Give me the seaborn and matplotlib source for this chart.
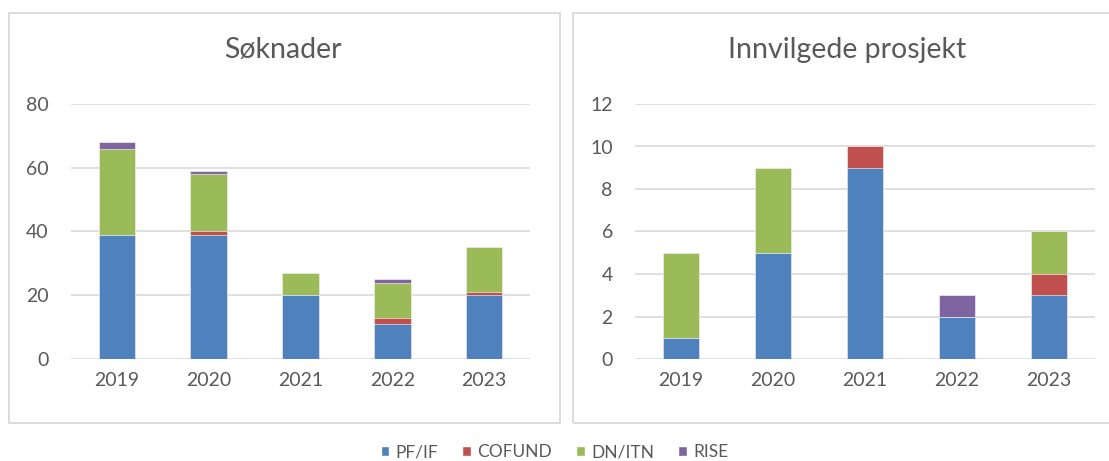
import matplotlib
matplotlib.use('Agg')
import matplotlib.pyplot as plt
from matplotlib.patches import Rectangle, Patch
import seaborn as sns

years=['2019','2020','2021','2022','2023']
series=['PF/IF','COFUND','DN/ITN','RISE']
colors=['#4F81BD','#C0504D','#9BBB59','#8064A2']

# søknader
soknad_pf=[39,39,20,11,20]
soknad_cofund=[0,1,0,2,1]
soknad_dn=[27,18,7,11,14]
soknad_rise=[2,1,0,1,0]

# innvilgede prosjekt
innv_pf=[1,5,9,2,3]
innv_cofund=[0,0,1,0,1]
innv_dn=[4,4,0,0,2]
innv_rise=[0,0,0,1,0]

sns.set_style('white')
plt.rcParams['font.family']=['Lato','DejaVu Sans']

fig=plt.figure(figsize=(11.09,4.61),dpi=100)
W,H=1109,461

def stacked(ax,data,ymax,step,title,title_x):
    # cumulative tops, drawn from the top layer down so the lower ones cover
    cum=[]
    run=[0]*len(years)
    for s in data:
        run=[a+b for a,b in zip(run,s)]
        cum.append(run)
    for i in range(len(data)-1,-1,-1):
        sns.barplot(x=years,y=cum[i],color=colors[i],width=0.4,saturation=1,
                    edgecolor='white',linewidth=0.4,ax=ax,zorder=3)
    ax.set_ylim(0,ymax)
    ax.set_yticks(range(0,ymax+1,step))
    ax.grid(axis='y',color='#D9D9D9',linewidth=1.2,zorder=0)
    ax.set_axisbelow(True)
    sns.despine(ax=ax,left=True,bottom=True)
    ax.tick_params(axis='y',length=0,pad=16,labelsize=14,labelcolor='#595959')
    ax.tick_params(axis='x',length=0,pad=9,labelsize=14,labelcolor='#595959')
    ax.set_xlabel('')
    ax.set_ylabel('')
    fig.text(title_x/W,1-50/H,title,ha='center',va='center',fontsize=20.5,color='#595959')

ax1=fig.add_axes([71/W,(461-359)/H,459/W,255/H])
stacked(ax1,[soknad_pf,soknad_cofund,soknad_dn,soknad_rise],80,20,'Søknader',283)
ax2=fig.add_axes([635/W,(461-359)/H,460/W,255/H])
stacked(ax2,[innv_pf,innv_cofund,innv_dn,innv_rise],12,2,'Innvilgede prosjekt',847)

# panel frames
fig.patches.append(Rectangle((9/W,(461-423)/H),551/W,410/H,transform=fig.transFigure,
                             fill=False,edgecolor='#D9D9D9',linewidth=1.3))
fig.patches.append(Rectangle((573/W,(461-423)/H),540/W,410/H,transform=fig.transFigure,
                             fill=False,edgecolor='#D9D9D9',linewidth=1.3))

handles=[Patch(facecolor=c,label=s) for c,s in zip(colors,series)]
leg=fig.legend(handles=handles,loc='center',bbox_to_anchor=(0.5,1-452/H),ncol=4,frameon=False,
               fontsize=12.5,handlelength=0.5,handleheight=0.5,handletextpad=0.35,columnspacing=1.4)
for t in leg.get_texts():
    t.set_color('#595959')

fig.savefig('out.png',dpi=100)
